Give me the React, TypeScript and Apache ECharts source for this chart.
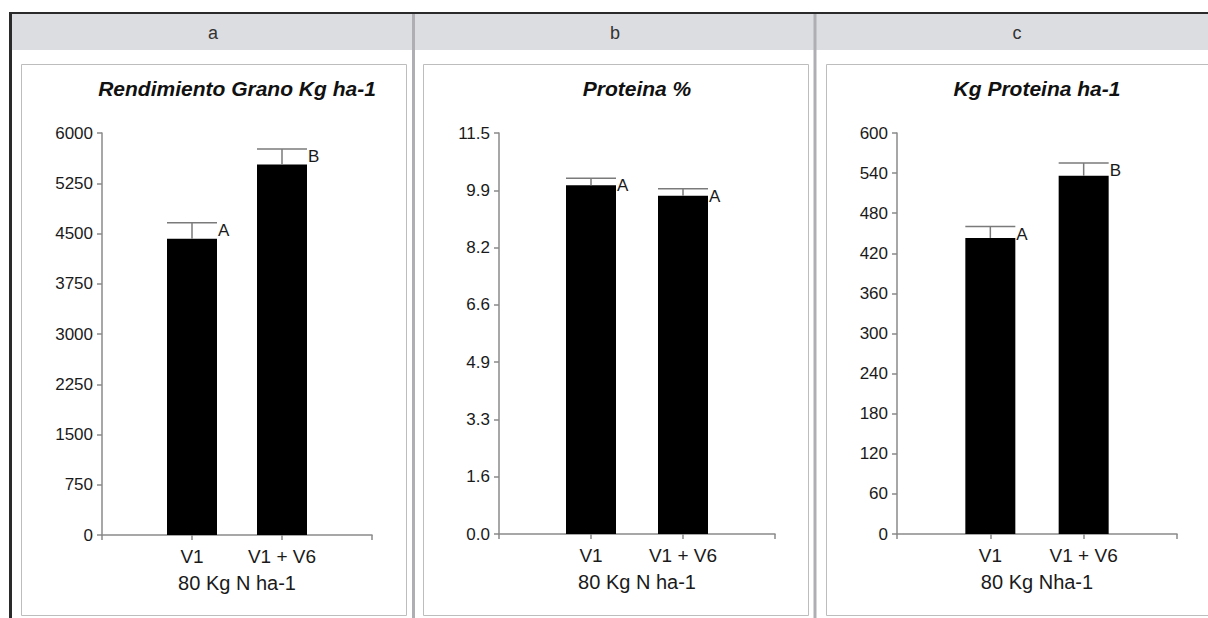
import React, { useEffect, useRef } from "react";
import * as echarts from "echarts";

const categories = ["", "V1", "V1 + V6", ""];
const panelLetters = ["a", "b", "c"];
const titles = ["Rendimiento Grano Kg ha-1", "Proteina %", "Kg Proteina ha-1"];
const xNames = ["80 Kg N ha-1", "80 Kg N ha-1", "80 Kg Nha-1"];

const yieldValues = [4420, 5530];
const yieldErrors = [240, 230];
const yieldLetters = ["A", "B"];

const proteinValues = [10.0, 9.7];
const proteinErrors = [0.2, 0.2];
const proteinLetters = ["A", "A"];

const proteinKgValues = [443, 536];
const proteinKgErrors = [17, 19];
const proteinKgLetters = ["A", "B"];

const yMax = [6000, 11.5, 600];
const yInterval = [750, 11.5 / 7, 60];
const yDecimals = [0, 1, 0];

const FONT = "Liberation Sans, Arial, Helvetica, sans-serif";

const grids = [
  { left: 102, top: 133, width: 270, height: 402 },
  { left: 499, top: 133, width: 276, height: 401 },
  { left: 897, top: 133, width: 280, height: 401 },
];

export default function App() {
  const ref = useRef<HTMLDivElement>(null);
  useEffect(() => {
    if (!ref.current) return;
    const chart = echarts.init(ref.current, null, { renderer: "svg" });
    const valuesList = [yieldValues, proteinValues, proteinKgValues];
    const errorsList = [yieldErrors, proteinErrors, proteinKgErrors];
    const lettersList = [yieldLetters, proteinLetters, proteinKgLetters];

    const xAxis = grids.map((_, i) => ({
      type: "category",
      gridIndex: i,
      data: categories,
      boundaryGap: false,
      axisLine: { show: true, lineStyle: { color: "#8a8a8a", width: 1.5 } },
      axisTick: { show: true, length: 5, interval: 0, lineStyle: { color: "#8a8a8a", width: 1.5 } },
      axisLabel: { interval: 0, margin: 12, fontSize: 19, color: "#1a1a1a", fontFamily: FONT },
      name: xNames[i],
      nameLocation: "middle",
      nameGap: 38,
      nameTextStyle: { fontSize: 20, color: "#1a1a1a", fontFamily: FONT },
    }));

    const yAxis = grids.map((_, i) => ({
      type: "value",
      gridIndex: i,
      min: 0,
      max: yMax[i],
      interval: yInterval[i],
      splitLine: { show: false },
      axisLine: { show: true, lineStyle: { color: "#8a8a8a", width: 1.5 } },
      axisTick: { show: true, length: 5, lineStyle: { color: "#8a8a8a", width: 1.5 } },
      axisLabel: {
        margin: 9,
        fontSize: 17,
        color: "#1a1a1a",
        fontFamily: FONT,
        formatter: (v: number) => v.toFixed(yDecimals[i]),
      },
    }));

    const series: any[] = [];
    grids.forEach((_, i) => {
      const vals = valuesList[i];
      series.push({
        type: "bar",
        xAxisIndex: i,
        yAxisIndex: i,
        barWidth: 50,
        data: ["-", vals[0], vals[1], "-"],
        itemStyle: { color: "#000" },
        silent: true,
      });
      series.push({
        type: "custom",
        xAxisIndex: i,
        yAxisIndex: i,
        data: vals.map((v, k) => [k + 1, v, errorsList[i][k], k]),
        renderItem: (params: any, api: any) => {
          const x = api.value(0);
          const v = api.value(1);
          const e = api.value(2);
          const idx = api.value(3);
          const base = api.coord([x, v]);
          const cap = api.coord([x, v + e]);
          const stroke = { stroke: "#7a7a7a", lineWidth: 1.5 };
          return {
            type: "group",
            children: [
              { type: "line", shape: { x1: base[0], y1: base[1], x2: cap[0], y2: cap[1] }, style: stroke },
              { type: "line", shape: { x1: cap[0] - 25, y1: cap[1], x2: cap[0] + 25, y2: cap[1] }, style: stroke },
              {
                type: "text",
                x: cap[0] + 26,
                y: cap[1] - 1,
                style: {
                  text: lettersList[i][idx],
                  fill: "#1a1a1a",
                  font: `17px ${FONT}`,
                  align: "left",
                  verticalAlign: "top",
                },
              },
            ],
          };
        },
        silent: true,
        z: 5,
      });
    });

    const graphic: any[] = [
      { type: "rect", shape: { x: 12, y: 14, width: 1196, height: 36 }, style: { fill: "#dcdde0" }, silent: true },
      { type: "rect", shape: { x: 9, y: 12, width: 1199, height: 2 }, style: { fill: "#2a2a2a" }, silent: true },
      { type: "rect", shape: { x: 9, y: 12, width: 3, height: 606 }, style: { fill: "#2a2a2a" }, silent: true },
      { type: "rect", shape: { x: 412, y: 14, width: 3, height: 604 }, style: { fill: "#afafb3" }, silent: true },
      { type: "rect", shape: { x: 813.5, y: 14, width: 3, height: 604 }, style: { fill: "#afafb3" }, silent: true },
      { type: "rect", shape: { x: 21.5, y: 64.5, width: 385, height: 551 }, style: { fill: "none", stroke: "#bdbdbd", lineWidth: 1 }, silent: true },
      { type: "rect", shape: { x: 423.5, y: 64.5, width: 385, height: 551 }, style: { fill: "none", stroke: "#bdbdbd", lineWidth: 1 }, silent: true },
      { type: "rect", shape: { x: 826.5, y: 64.5, width: 400, height: 551 }, style: { fill: "none", stroke: "#bdbdbd", lineWidth: 1 }, silent: true },
    ];
    const headerX = [213, 615, 1017];
    panelLetters.forEach((t, i) => {
      graphic.push({
        type: "text",
        x: headerX[i],
        y: 33,
        style: { text: t, fill: "#333", font: `18px ${FONT}`, align: "center", verticalAlign: "middle" },
        silent: true,
      });
    });
    grids.forEach((g, i) => {
      graphic.push({
        type: "text",
        x: g.left + g.width / 2,
        y: 88,
        style: {
          text: titles[i],
          fill: "#111",
          font: `italic bold 21px ${FONT}`,
          align: "center",
          verticalAlign: "middle",
        },
        silent: true,
      });
    });

    chart.setOption({
      animation: false,
      backgroundColor: "#fff",
      grid: grids.map((g) => ({ ...g, containLabel: false })),
      xAxis,
      yAxis,
      series,
      graphic,
    });
    return () => chart.dispose();
  }, []);
  return <div ref={ref} style={{ position: "absolute", left: 0, top: 0, width: 1208, height: 618 }} />;
}
